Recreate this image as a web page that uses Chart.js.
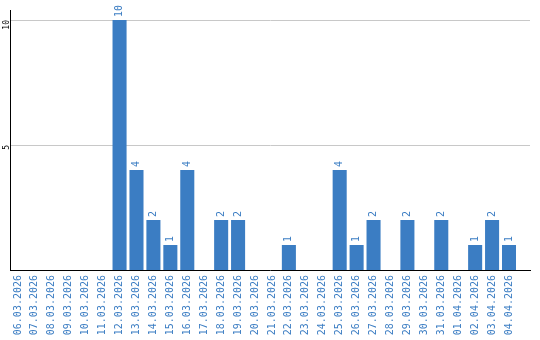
<!DOCTYPE html>
<html>
<head>
<meta charset="utf-8">
<script src="https://cdn.jsdelivr.net/npm/chart.js@4.4.1/dist/chart.umd.min.js"></script>
<style>
  html, body { margin: 0; padding: 0; background: #ffffff; }
  #wrap { width: 540px; height: 340px; }
</style>
</head>
<body>
<div id="wrap"><canvas id="c" width="540" height="340"></canvas></div>
<script>
const categories = [
  "06.03.2026","07.03.2026","08.03.2026","09.03.2026","10.03.2026","11.03.2026",
  "12.03.2026","13.03.2026","14.03.2026","15.03.2026","16.03.2026","17.03.2026",
  "18.03.2026","19.03.2026","20.03.2026","21.03.2026","22.03.2026","23.03.2026",
  "24.03.2026","25.03.2026","26.03.2026","27.03.2026","28.03.2026","29.03.2026",
  "30.03.2026","31.03.2026","01.04.2026","02.04.2026","03.04.2026","04.04.2026"
];
const values = [0,0,0,0,0,0,10,4,2,1,4,0,2,2,0,0,1,0,0,4,1,2,0,2,0,2,0,1,2,1];
const yTickValues = [5, 10];

const BLUE = "#3b7dc3";
const FONT = "'DejaVu Sans Mono', 'Liberation Mono', monospace";

const valueLabels = {
  id: "valueLabels",
  afterDatasetsDraw(chart) {
    const ctx = chart.ctx;
    const meta = chart.getDatasetMeta(0);
    ctx.save();
    ctx.fillStyle = BLUE;
    ctx.font = "10px " + FONT;
    ctx.textAlign = "left";
    ctx.textBaseline = "middle";
    meta.data.forEach((bar, i) => {
      const v = values[i];
      if (!v) return;
      ctx.save();
      ctx.translate(bar.x, bar.y - 3);
      ctx.rotate(-Math.PI / 2);
      ctx.fillText(String(v), 0, 0);
      ctx.restore();
    });
    ctx.restore();
  }
};

new Chart(document.getElementById("c"), {
  type: "bar",
  data: {
    datasets: [{
      data: values.map((v, i) => ({ x: i, y: v })),
      backgroundColor: BLUE,
      borderWidth: 0,
      barPercentage: 0.83,
      categoryPercentage: 1
    }]
  },
  options: {
    responsive: false,
    animation: false,
    layout: { padding: { top: 10, right: 10, left: 0, bottom: 0 } },
    plugins: { legend: { display: false }, tooltip: { enabled: false } },
    scales: {
      x: {
        type: "linear",
        offset: false,
        min: -0.47,
        max: 30.24,
        afterBuildTicks(scale) { scale.ticks = categories.map((c, i) => ({ value: i })); },
        afterFit(scale) { scale.height = 70; },
        grid: { display: false, drawTicks: false, offset: false },
        border: { display: true, color: "#000000", width: 1 },
        ticks: {
          autoSkip: false,
          minRotation: 90,
          maxRotation: 90,
          padding: 5,
          color: BLUE,
          font: { family: FONT, size: 10 },
          callback: (v) => categories[v] ?? ""
        }
      },
      y: {
        min: 0,
        max: 10.4,
        afterBuildTicks(scale) { scale.ticks = yTickValues.map(v => ({ value: v })); },
        afterFit(scale) { scale.width = 10; },
        grid: { color: "#c8c8c8", drawTicks: false, lineWidth: 1 },
        border: { display: true, color: "#000000", width: 1 },
        ticks: {
          minRotation: 90,
          maxRotation: 90,
          padding: 3,
          color: "#000000",
          font: { family: FONT, size: 8 }
        }
      }
    }
  },
  plugins: [valueLabels]
});
</script>
</body>
</html>
